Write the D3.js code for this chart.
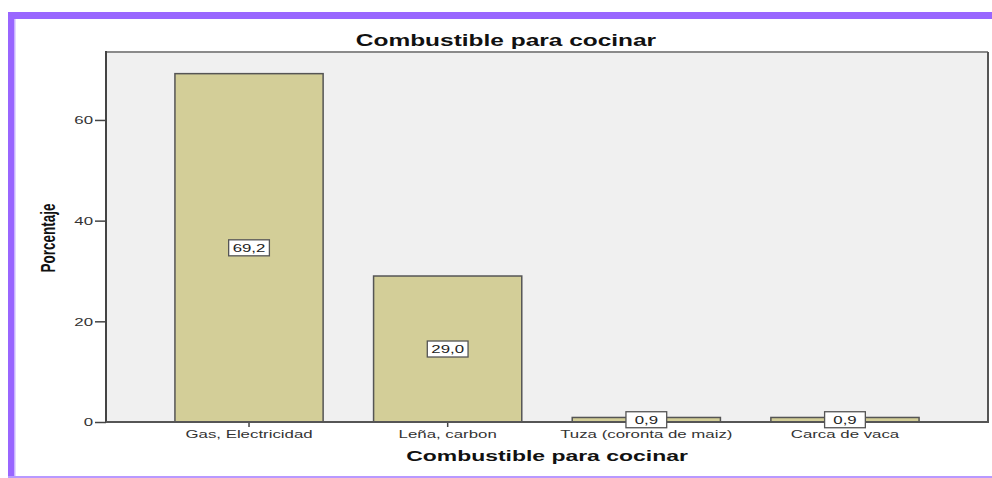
<!DOCTYPE html>
<html><head><meta charset="utf-8">
<script src="https://cdn.jsdelivr.net/npm/d3@7"></script>
<style>html,body{margin:0;padding:0;background:#fff;}svg{display:block;}</style>
</head><body>
<svg id="chart" width="992" height="478"></svg>
<script>
const categories = ["Gas, Electricidad", "Leña, carbon", "Tuza (coronta de maiz)", "Carca de vaca"];
const values = [69.2, 29.0, 0.9, 0.9];
const valueLabels = ["69,2", "29,0", "0,9", "0,9"];
const yTicks = [0, 20, 40, 60];
const chartTitle = "Combustible para cocinar";
const xTitle = "Combustible para cocinar";
const yTitle = "Porcentaje";

const W = 992, H = 478;
const SX = 1.53; // horizontal stretch of the original picture
const font = "'Liberation Sans', Arial, sans-serif";
const svg = d3.select("#chart");

const plot = {left: 106, top: 52, right: 988, bottom: 422};

// purple frame
svg.append("rect").attr("x", 8).attr("y", 12).attr("width", W).attr("height", 7).attr("fill", "#9966ff");
svg.append("rect").attr("x", 8).attr("y", 12).attr("width", 6).attr("height", H).attr("fill", "#9966ff");
svg.append("rect").attr("x", 14).attr("y", 19).attr("width", 1.5).attr("height", H).attr("fill", "#c9b3ff");
svg.append("rect").attr("x", 8).attr("y", 476).attr("width", W).attr("height", 2).attr("fill", "#b899ff");

const x = d3.scaleBand().domain(categories).range([plot.left, plot.right])
  .paddingInner(0.254).paddingOuter(0.347);
const y = d3.scaleLinear().domain([0, 73.5]).range([plot.bottom, plot.top]);

// plot background
svg.append("rect").attr("x", plot.left).attr("y", plot.top)
  .attr("width", plot.right - plot.left).attr("height", plot.bottom - plot.top)
  .attr("fill", "#f0f0f0");
// top & right frame
svg.append("line").attr("x1", plot.left).attr("x2", plot.right).attr("y1", plot.top).attr("y2", plot.top)
  .attr("stroke", "#8a8a8a").attr("stroke-width", 2);
svg.append("line").attr("x1", plot.right).attr("x2", plot.right).attr("y1", plot.top).attr("y2", plot.bottom)
  .attr("stroke", "#555").attr("stroke-width", 2);

function stretchedText(g, tx, ty, txt, size, weight, anchor, fill) {
  return g.append("text")
    .attr("transform", `translate(${tx},${ty}) scale(${SX},1)`)
    .attr("text-anchor", anchor).attr("font-family", font)
    .attr("font-size", size).attr("font-weight", weight).attr("fill", fill).text(txt);
}

// bars
const data = categories.map((c, i) => ({c, v: values[i], lab: valueLabels[i]}));
svg.append("g").selectAll("rect").data(data).join("rect")
  .attr("x", d => x(d.c)).attr("width", x.bandwidth())
  .attr("y", d => y(d.v)).attr("height", d => y(0) - y(d.v))
  .attr("fill", "#d3ce98").attr("stroke", "#555").attr("stroke-width", 1.5);

// axes lines
const gy = svg.append("g").attr("transform", `translate(${plot.left},0)`)
  .call(d3.axisLeft(y).tickValues(yTicks).tickSize(11).tickPadding(2).tickFormat(d3.format("d")));
gy.select(".domain").remove();
gy.selectAll(".tick line").attr("stroke", "#444").attr("stroke-width", 1.5);
gy.selectAll(".tick text").each(function(d) {
  const t = d3.select(this);
  const xx = +t.attr("x");
  t.attr("x", null).attr("dy", "0.35em")
   .attr("transform", `translate(${xx},0) scale(${SX},1)`)
   .attr("font-family", font).attr("font-size", 11).attr("fill", "#333");
});
svg.append("line").attr("x1", plot.left).attr("x2", plot.left).attr("y1", plot.top - 1).attr("y2", plot.bottom + 1)
  .attr("stroke", "#444").attr("stroke-width", 2);

const gx = svg.append("g").attr("transform", `translate(0,${plot.bottom})`)
  .call(d3.axisBottom(x).tickSize(5).tickFormat(""));
gx.select(".domain").remove();
gx.selectAll(".tick line").attr("stroke", "#444").attr("stroke-width", 1.5);
svg.append("line").attr("x1", plot.left).attr("x2", plot.right + 1).attr("y1", plot.bottom).attr("y2", plot.bottom)
  .attr("stroke", "#555").attr("stroke-width", 2);

// value label boxes
const lg = svg.append("g");
data.forEach(d => {
  const cx = x(d.c) + x.bandwidth() / 2;
  const cy = (y(d.v) + y(0)) / 2;
  const g = lg.append("g");
  const t = stretchedText(g, cx, cy + 4, d.lab, 11, "normal", "middle", "#222");
  const w = 21.4 * SX + 8, h = 16;
  g.insert("rect", "text").attr("x", cx - w / 2).attr("y", cy - h / 2).attr("width", w).attr("height", h)
    .attr("fill", "#fff").attr("stroke", "#555").attr("stroke-width", 1.3);
});

// category tick labels
data.forEach(d => {
  stretchedText(svg, x(d.c) + x.bandwidth() / 2, 438, d.c, 11, "normal", "middle", "#333");
});

// titles
stretchedText(svg, 506, 46, chartTitle, 16, "bold", "middle", "#111");
stretchedText(svg, (plot.left + plot.right) / 2, 461, xTitle, 15, "bold", "middle", "#111");
svg.append("text")
  .attr("transform", `translate(55,238) rotate(-90) scale(1,${SX})`)
  .attr("text-anchor", "middle").attr("font-family", font)
  .attr("font-size", 13.5).attr("font-weight", "bold").attr("fill", "#111").text(yTitle);
</script>
</body></html>
